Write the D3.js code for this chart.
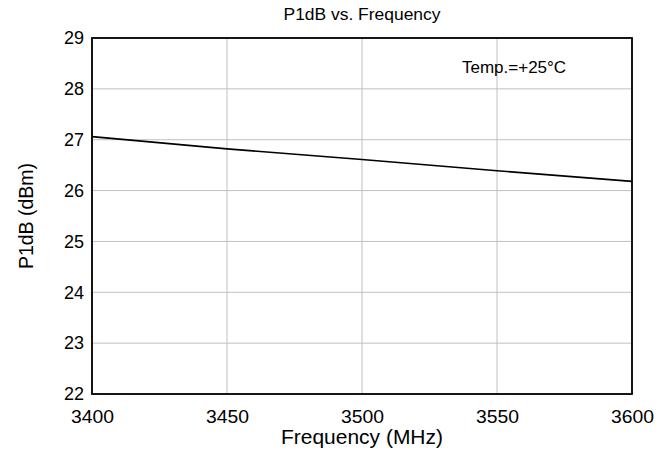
<!DOCTYPE html>
<html>
<head>
<meta charset="utf-8">
<script src="https://cdn.jsdelivr.net/npm/d3@7"></script>
<style>
  body { margin: 0; background: #fff; }
  text { font-family: "Liberation Sans", Arial, sans-serif; fill: #000; }
</style>
</head>
<body>
<div id="chart"></div>
<script>
// ---------------- data ----------------
var freqs = [3400, 3450, 3500, 3550, 3600];
var p1db = [27.06, 26.82, 26.61, 26.39, 26.18];
var xTicks = [3400, 3450, 3500, 3550, 3600];
var yTicks = [22, 23, 24, 25, 26, 27, 28, 29];

// ---------------- canvas ----------------
var svgWidth = 670, svgHeight = 455;
var margin = {left: 92, right: 38, top: 38, bottom: 61};
var w = svgWidth - margin.left - margin.right,
    h = svgHeight - margin.top - margin.bottom;

var svg = d3.select("#chart").append("svg")
  .attr("width", svgWidth)
  .attr("height", svgHeight);

var g = svg.append("g")
  .attr("transform", `translate(${margin.left}, ${margin.top})`);

// scales
var x = d3.scaleLinear().domain([3400, 3600]).range([0, w]);
var y = d3.scaleLinear().domain([22, 29]).range([h, 0]);

// grid
g.selectAll(".vgrid").data(xTicks).enter().append("line")
  .attr("x1", d => x(d)).attr("x2", d => x(d))
  .attr("y1", 0).attr("y2", h)
  .attr("stroke", "#c0c0c0").attr("stroke-width", 1);
g.selectAll(".hgrid").data(yTicks).enter().append("line")
  .attr("x1", 0).attr("x2", w)
  .attr("y1", d => y(d)).attr("y2", d => y(d))
  .attr("stroke", "#c0c0c0").attr("stroke-width", 1);

// axes (labels only, no tick marks)
var xAxis = g.append("g")
  .attr("transform", `translate(0, ${h})`)
  .call(d3.axisBottom(x).tickValues(xTicks).tickSize(0).tickPadding(16).tickFormat(d3.format("d")));
var yAxis = g.append("g")
  .call(d3.axisLeft(y).tickValues(yTicks).tickSize(0).tickPadding(8).tickFormat(d3.format("d")));
[xAxis, yAxis].forEach(function(a){
  a.select(".domain").remove();
  a.selectAll("text")
    .style("font-family", "'Liberation Sans', Arial, sans-serif")
    .style("font-size", "18px")
    .attr("fill", "#000");
});
xAxis.selectAll("text").attr("textLength", 43).attr("lengthAdjust", "spacingAndGlyphs");

// line
var line = d3.line().x((d, i) => x(freqs[i])).y(d => y(d));
g.append("path")
  .datum(p1db)
  .attr("d", line)
  .attr("fill", "none")
  .attr("stroke", "#000")
  .attr("stroke-width", 1.6);

// frame
g.append("rect")
  .attr("x", 0).attr("y", 0).attr("width", w).attr("height", h)
  .attr("fill", "none").attr("stroke", "#000").attr("stroke-width", 1.8);

// texts
svg.append("text")
  .attr("x", margin.left + w / 2).attr("y", 20)
  .attr("text-anchor", "middle")
  .attr("textLength", 157).attr("lengthAdjust", "spacingAndGlyphs")
  .style("font-size", "16px")
  .text("P1dB vs. Frequency");

svg.append("text")
  .attr("x", margin.left + w / 2).attr("y", 444)
  .attr("text-anchor", "middle")
  .attr("textLength", 162).attr("lengthAdjust", "spacingAndGlyphs")
  .style("font-size", "19.5px")
  .text("Frequency (MHz)");

svg.append("text")
  .attr("transform", `translate(33, ${margin.top + h / 2}) rotate(-90)`)
  .attr("text-anchor", "middle")
  .style("font-size", "19.5px")
  .text("P1dB (dBm)");

svg.append("text")
  .attr("x", 462).attr("y", 73)
  .style("font-size", "17px")
  .text("Temp.=+25°C");
</script>
</body>
</html>
